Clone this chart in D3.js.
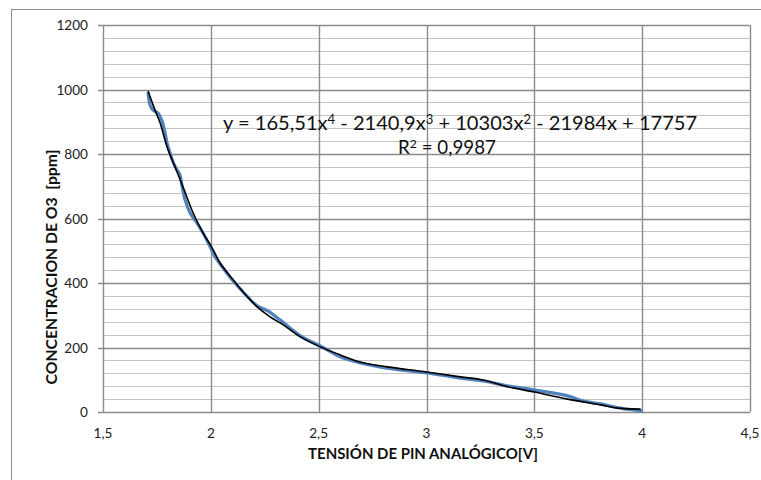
<!DOCTYPE html>
<html>
<head>
<meta charset="utf-8">
<script src="https://cdn.jsdelivr.net/npm/d3@7"></script>
<style>
  body { margin: 0; background: #fff; }
  svg { display: block; font-family: Lato, "Open Sans", sans-serif; }
</style>
</head>
<body>
<svg width="761" height="480"></svg>
<script>
// datos medidos (serie azul): tension [V] y concentracion [ppm]
let tension = [1.709, 1.718, 1.732, 1.755, 1.774, 1.788, 1.797, 1.811, 1.825, 1.844, 1.857, 1.867,
    1.881, 1.904, 1.936, 1.964, 1.997, 2.020, 2.043, 2.104, 2.150, 2.215, 2.266, 2.322, 2.415,
    2.507, 2.600, 2.693, 2.818, 3.004, 3.157, 3.264, 3.376, 3.501, 3.654, 3.728, 3.807, 3.900, 4.002];
let concentracion = [992, 952, 936, 927, 902, 865, 834, 803, 775, 750, 735, 698,
    657, 617, 586, 555, 512, 481, 459, 406, 372, 329, 313, 285, 236,
    205, 171, 152, 136, 121, 105, 96, 81, 68, 50, 34, 25, 12, 3];

// linea de tendencia polinomica (negra)
let tendX = [1.709, 1.741, 1.765, 1.797, 1.834, 1.871, 1.918, 1.964, 2.006, 2.043, 2.104, 2.150,
    2.215, 2.275, 2.336, 2.415, 2.507, 2.600, 2.693, 2.818, 2.999, 3.157, 3.264, 3.376, 3.501,
    3.654, 3.807, 3.886, 3.993];
let tendY = [995, 936, 896, 822, 760, 698, 617, 555, 509, 462, 409, 372,
    326, 295, 270, 233, 202, 177, 155, 140, 124, 109, 99, 78, 62,
    40, 22, 12, 9];

let ticksX = [1.5, 2, 2.5, 3, 3.5, 4, 4.5];
let ticksY = [0, 200, 400, 600, 800, 1000, 1200];
let menoresY = d3.range(0, 1201, 40);

let ecuacion = [["y = 165,51x", "4"], [" - 2140,9x", "3"], [" + 10303x", "2"], [" - 21984x + 17757", ""]];
let r2 = [["R", "2"], [" = 0,9987", ""]];

let svg = d3.select("svg");
let fmt = d => String(d).replace(".", ",");

let x = d3.scaleLinear().domain([1.5, 4.5]).range([103, 750]);
let y = d3.scaleLinear().domain([0, 1200]).range([412, 25]);

// ajusta el tamaño de letra para que el texto tenga el ancho medido en la imagen
function ajustar(sel, ancho) {
    let fs = parseFloat(sel.attr("font-size"));
    let w = sel.node().getComputedTextLength();
    sel.attr("font-size", (fs * ancho / w).toFixed(2));
}

// borde del area del grafico (recortado a la derecha y abajo)
svg.append("rect")
    .attr("x", 11.5).attr("y", 9.5)
    .attr("width", 800).attr("height", 600)
    .attr("fill", "none")
    .attr("stroke", "#8c8c8c");

// lineas de cuadricula menores
svg.append("g").selectAll("line")
    .data(menoresY.filter(d => d % 200 != 0))
    .join("line")
    .attr("x1", x(1.5)).attr("x2", x(4.5))
    .attr("y1", d => Math.round(y(d)) + 0.5).attr("y2", d => Math.round(y(d)) + 0.5)
    .attr("stroke", "#c4c4c4");

// lineas mayores horizontales
svg.append("g").selectAll("line")
    .data(ticksY)
    .join("line")
    .attr("x1", x(1.5) - 5).attr("x2", x(4.5))
    .attr("y1", d => Math.round(y(d)) + 0.5).attr("y2", d => Math.round(y(d)) + 0.5)
    .attr("stroke", "#8c8c8c")
    .attr("stroke-width", 1.4);

// lineas mayores verticales
svg.append("g").selectAll("line")
    .data(ticksX)
    .join("line")
    .attr("x1", d => Math.round(x(d)) + 0.5).attr("x2", d => Math.round(x(d)) + 0.5)
    .attr("y1", y(0)).attr("y2", y(1200))
    .attr("stroke", "#8c8c8c")
    .attr("stroke-width", 1.4);

// etiquetas de los ejes
svg.append("g").selectAll("text")
    .data(ticksY)
    .join("text")
    .attr("x", 88).attr("y", d => y(d) + 5)
    .attr("text-anchor", "end")
    .attr("font-size", 13.6)
    .attr("fill", "#222")
    .text(d => d);

svg.append("g").selectAll("text")
    .data(ticksX)
    .join("text")
    .attr("x", d => x(d)).attr("y", 438)
    .attr("text-anchor", "middle")
    .attr("font-size", 13.6)
    .attr("fill", "#222")
    .text(d => fmt(d));

let tituloY = svg.append("text")
    .attr("transform", "translate(57,267) rotate(-90)")
    .attr("text-anchor", "middle")
    .attr("font-size", 13)
    .attr("font-weight", "bold")
    .attr("fill", "#111")
    .attr("xml:space", "preserve")
    .text("CONCENTRACION DE O3  [ppm]");
ajustar(tituloY, 235);

let tituloX = svg.append("text")
    .attr("x", 423).attr("y", 459)
    .attr("text-anchor", "middle")
    .attr("font-size", 13)
    .attr("font-weight", "bold")
    .attr("fill", "#111")
    .text("TENSIÓN DE PIN ANALÓGICO[V]");
ajustar(tituloX, 230);

// serie medida
let puntos = tension.map((t, i) => [t, concentracion[i]]);
svg.append("path")
    .datum(puntos)
    .attr("fill", "none")
    .attr("stroke", "#4f81bd")
    .attr("stroke-width", 3.2)
    .attr("stroke-linejoin", "round")
    .attr("d", d3.line().x(d => x(d[0])).y(d => y(d[1])).curve(d3.curveCatmullRom));

// tendencia
let tend = tendX.map((t, i) => [t, tendY[i]]);
svg.append("path")
    .datum(tend)
    .attr("fill", "none")
    .attr("stroke", "#000")
    .attr("stroke-width", 1.6)
    .attr("d", d3.line().x(d => x(d[0])).y(d => y(d[1])).curve(d3.curveCatmullRom));

// ecuacion y R2 (con exponentes)
function etiqueta(partes, px, py, ancho) {
    let t = svg.append("text")
        .attr("x", px).attr("y", py)
        .attr("font-size", 16)
        .attr("fill", "#111")
        .attr("xml:space", "preserve");
    let baja = 0;
    partes.forEach(p => {
        t.append("tspan").attr("dy", baja).text(p[0]);
        baja = 0;
        if (p[1] != "") {
            t.append("tspan")
                .attr("font-size", "0.65em")
                .attr("dy", -6)
                .text(p[1]);
            baja = 6;
        }
    });
    ajustar(t, ancho);
    return t;
}
etiqueta(ecuacion, 223, 130, 474);
etiqueta(r2, 398, 154, 98);
</script>
</body>
</html>
